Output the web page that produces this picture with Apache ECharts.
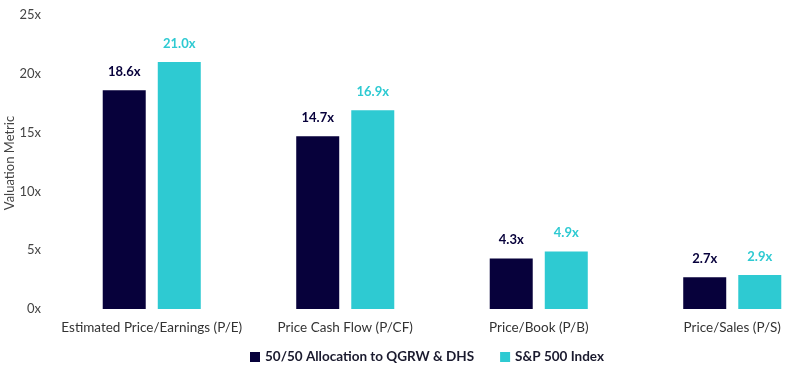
<!DOCTYPE html>
<html><head><meta charset="utf-8">
<script src="https://cdn.jsdelivr.net/npm/echarts@6/dist/echarts.min.js"></script>
<style>html,body{margin:0;padding:0;background:#fff}#c{width:787px;height:377px}</style>
</head><body><div id="c"></div>
<script>
const categories = ["Estimated Price/Earnings (P/E)", "Price Cash Flow (P/CF)", "Price/Book (P/B)", "Price/Sales (P/S)"];
const seriesNames = ["50/50 Allocation to QGRW & DHS", "S&P 500 Index"];
const allocValues = [18.6, 14.7, 4.3, 2.7];
const spValues = [21.0, 16.9, 4.9, 2.9];
const yTicks = [0, 5, 10, 15, 20, 25];
const yAxisTitle = 'Valuation Metric';

const FONT = "Lato, 'Open Sans', sans-serif";
const NAVY = "#07013b";
const CYAN = "#2ecad2";
const chart = echarts.init(document.getElementById('c'));
chart.setOption({
  animation: false,
  textStyle: { fontFamily: FONT },
  grid: { left: 55, width: 774, top: 15, bottom: 68, containLabel: false, outerBoundsMode: 'none' },
  graphic: [{
    type: 'text', x: 10, y: 163, rotation: Math.PI / 2,
    style: { text: yAxisTitle, fill: '#444', font: "13px Lato, 'Open Sans', sans-serif",
      textAlign: 'center', textVerticalAlign: 'middle' }
  }],
  legend: {
    bottom: 8, left: 245,
    itemWidth: 10, itemHeight: 10, itemGap: 26,
    icon: 'rect',
    textStyle: { fontFamily: FONT, fontWeight: 'bold', fontSize: 13.5, color: '#1a1a2e' },
    data: seriesNames
  },
  xAxis: {
    type: 'category', data: categories,
    axisLine: { show: false }, axisTick: { show: false },
    axisLabel: { interval: 0, fontSize: 13.5, color: '#333', margin: 12, fontFamily: FONT }
  },
  yAxis: {
    type: 'value', min: yTicks[0], max: yTicks[yTicks.length - 1], interval: 5,
    splitLine: { show: false }, axisLine: { show: false }, axisTick: { show: false },
    axisLabel: { fontSize: 13, color: '#444', margin: 14, formatter: v => v + 'x', fontFamily: FONT }
  },
  series: [
    {
      name: seriesNames[0], type: 'bar', data: allocValues,
      barWidth: 43, barGap: '28%',
      itemStyle: { color: NAVY },
      label: { show: true, position: 'top', distance: 12, formatter: p => p.value.toFixed(1) + 'x',
        fontWeight: 'bold', fontSize: 13, color: NAVY, fontFamily: FONT }
    },
    {
      name: seriesNames[1], type: 'bar', data: spValues,
      barWidth: 43,
      itemStyle: { color: CYAN },
      label: { show: true, position: 'top', distance: 12, formatter: p => p.value.toFixed(1) + 'x',
        fontWeight: 'bold', fontSize: 13, color: CYAN, fontFamily: FONT }
    }
  ]
});
</script></body></html>
